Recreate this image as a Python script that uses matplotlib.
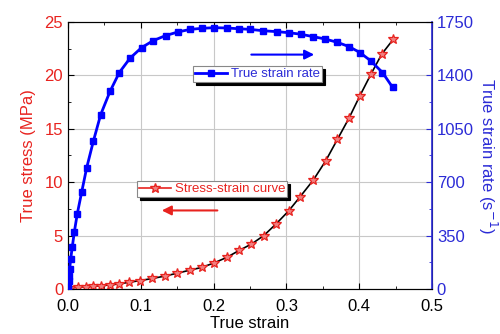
import matplotlib
matplotlib.use("Agg")
import matplotlib.pyplot as plt
from matplotlib.ticker import MultipleLocator

plt.rcParams['font.family'] = ['Liberation Sans', 'DejaVu Sans']

stress_strain = [0.003, 0.014, 0.025, 0.035, 0.046, 0.058, 0.070, 0.084, 0.099, 0.116,
                 0.133, 0.150, 0.167, 0.184, 0.2005, 0.218, 0.235, 0.252, 0.269, 0.286,
                 0.303, 0.319, 0.337, 0.354, 0.370, 0.386, 0.401, 0.416, 0.431, 0.447]
stress = [0.09, 0.16, 0.22, 0.25, 0.31, 0.37, 0.47, 0.62, 0.78, 0.98,
          1.2, 1.47, 1.75, 2.02, 2.43, 2.95, 3.6, 4.2, 5.0, 6.1,
          7.3, 8.65, 10.2, 12.0, 14.0, 16.0, 18.1, 20.1, 22.0, 23.4]

rate_strain = [0, 0.0005, 0.001, 0.0014, 0.0023, 0.0037, 0.0059, 0.0087, 0.0128, 0.0188,
               0.0257, 0.0348, 0.0449, 0.0577, 0.0705, 0.0852, 0.101, 0.117, 0.134, 0.151,
               0.168, 0.1845, 0.201, 0.218, 0.235, 0.25, 0.268, 0.287, 0.3036, 0.320,
               0.337, 0.353, 0.370, 0.386, 0.401, 0.416, 0.432, 0.446]
rate = [0, 22, 54, 87, 131, 196, 276, 374, 494, 635,
        795, 968, 1143, 1295, 1419, 1513, 1582, 1628, 1661, 1685,
        1702, 1709, 1713, 1711, 1706, 1702, 1693, 1687, 1680, 1670,
        1654, 1639, 1617, 1589, 1550, 1495, 1419, 1321]

x_ticks = [0.0, 0.1, 0.2, 0.3, 0.4, 0.5]
left_ticks = [0, 5, 10, 15, 20, 25]
right_ticks = [0, 350, 700, 1050, 1400, 1750]

RED = '#e8231f'
BLUE = '#2b2bd6'

fig = plt.figure(figsize=(5.0, 3.34), dpi=100)
ax = fig.add_axes([0.136, 0.135, 0.728, 0.799])
ax2 = ax.twinx()

# stress-strain
ax.plot([0] + stress_strain, [0] + stress, color='black', lw=1.2, zorder=3)
ax.plot(stress_strain, stress, linestyle='none', marker='*', ms=7.5,
        mfc='#f08080', mec=RED, mew=0.9, zorder=4)
h1, = ax.plot([], [], color=RED, lw=1.2, marker='*', ms=7, mfc='#f08080', mec=RED)

# strain rate
h2, = ax2.plot(rate_strain, rate, color='blue', lw=2, marker='s', ms=3.8, zorder=3)

ax.set_xlim(0, 0.5)
ax.set_ylim(0, 25)
ax2.set_ylim(0, 1750)
ax.set_xticks(x_ticks)
ax.set_xticklabels([f"{t:.1f}" for t in x_ticks])
ax.set_yticks(left_ticks)
ax2.set_yticks(right_ticks)
ax.xaxis.set_minor_locator(MultipleLocator(0.05))
ax.yaxis.set_minor_locator(MultipleLocator(2.5))
ax2.yaxis.set_minor_locator(MultipleLocator(175))

ax.grid(True, which='major', color='#c8c8c8', lw=0.8)
ax.set_axisbelow(True)

ax.tick_params(axis='both', which='both', direction='in', top=True, labelsize=12)
ax.tick_params(axis='y', which='major', colors='black', labelcolor=RED, length=4)
ax.tick_params(axis='x', which='major', length=4)
ax.tick_params(which='minor', length=2)
ax2.tick_params(axis='y', which='both', direction='in', colors=BLUE, labelcolor=BLUE, labelsize=12)
ax2.tick_params(axis='y', which='major', length=4)
ax2.tick_params(axis='y', which='minor', length=2)
ax.tick_params(axis='x', pad=7)

for s in ['left', 'top', 'bottom']:
    ax.spines[s].set_color('#333333')
ax2.spines['right'].set_color(BLUE)
ax2.spines['right'].set_linewidth(1.2)

ax.set_xlabel('True strain', fontsize=12, labelpad=2)
ax.set_ylabel('True stress (MPa)', fontsize=12, color=RED, labelpad=6)
ax2.set_ylabel('True strain rate (s$^{-1}$)', fontsize=12, color=BLUE, rotation=270, labelpad=18)

shadow = {'color': 'black', 'alpha': 1, 'ox': 2.2, 'oy': -2.2}

leg2 = ax2.legend([h2], ['True strain rate'], loc='upper left',
                  bbox_to_anchor=(193 / 500, 1 - 66 / 334), bbox_transform=fig.transFigure,
                  fontsize=9.5, frameon=True, fancybox=False, handlelength=2.4,
                  borderpad=0.15, handletextpad=0.3, borderaxespad=0,
                  shadow=shadow)
leg2.get_frame().set_edgecolor('#888888')
leg2.get_frame().set_linewidth(0.8)
for t in leg2.get_texts():
    t.set_color(BLUE)

leg1 = ax2.legend([h1], ['Stress-strain curve'], loc='upper left',
                  bbox_to_anchor=(137 / 500, 1 - 181 / 334), bbox_transform=fig.transFigure,
                  fontsize=9.5, frameon=True, fancybox=False, handlelength=2.4,
                  borderpad=0.15, handletextpad=0.3, borderaxespad=0,
                  shadow=shadow)
leg1.get_frame().set_edgecolor('#888888')
leg1.get_frame().set_linewidth(0.8)
for t in leg1.get_texts():
    t.set_color(RED)
ax2.add_artist(leg2)

# arrows
ax.annotate('', xy=(0.342, 21.95), xytext=(0.248, 21.95),
            arrowprops=dict(arrowstyle='-|>', color='blue', lw=1.5, mutation_scale=14))
ax.annotate('', xy=(0.125, 7.35), xytext=(0.209, 7.35),
            arrowprops=dict(arrowstyle='-|>', color=RED, lw=1.5, mutation_scale=14))

fig.savefig('out.png', dpi=100)
